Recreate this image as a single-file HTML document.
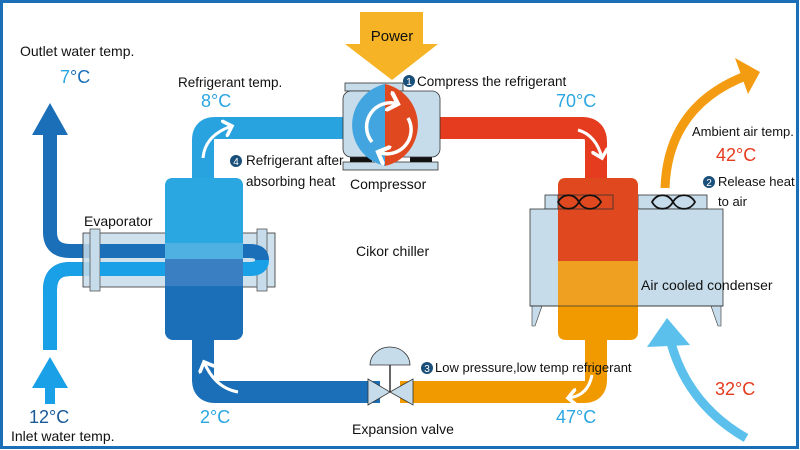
<!DOCTYPE html>
<html><head><meta charset="utf-8"><style>
html,body{margin:0;padding:0;background:#fff}
svg{display:block}
text{font-family:"Liberation Sans",sans-serif}
</style></head><body>
<svg width="800" height="450" viewBox="0 0 800 450" xmlns="http://www.w3.org/2000/svg">
<rect x="1.5" y="1.5" width="796" height="446" fill="#fff" stroke="#1a6fb8" stroke-width="3"/>
<defs>
<marker id="wh" markerWidth="6" markerHeight="6" refX="3" refY="3" orient="auto" markerUnits="strokeWidth"><path d="M0,0 L3,3 L0,6" fill="none" stroke="#fff" stroke-width="1.2"/></marker>
</defs>
<!-- water tubes -->
<path d="M50,135 V232 Q50,251 70,251 H250 Q262,251 262,260 Q262,269 250,269 H70 Q50,269 50,290 V350" fill="none" stroke="#1a6fb8" stroke-width="14"/>
<path d="M250,269 H70 Q50,269 50,290 V350" fill="none" stroke="#1aa0e6" stroke-width="14"/>
<polygon points="50,103 32,135 68,135" fill="#1a6fb8"/>
<polygon points="50,357 32,388 68,388" fill="#1aa0e6"/>
<rect x="45" y="386" width="10" height="18" fill="#1aa0e6"/>
<!-- evaporator shell -->
<rect x="83" y="233" width="192" height="54" fill="#c6dcea" fill-opacity="0.85" stroke="#333" stroke-width="0.8"/>
<rect x="90" y="229" width="10" height="62" fill="#c6dcea" stroke="#555" stroke-width="0.8"/>
<rect x="257" y="229" width="10" height="62" fill="#c6dcea" stroke="#555" stroke-width="0.8"/>
<path d="M100,251 H250 Q262,251 262,260" fill="none" stroke="#1a6fb8" stroke-width="14"/>
<path d="M262,260 Q262,269 250,269 H100" fill="none" stroke="#1aa0e6" stroke-width="14"/>
<!-- refrigerant pipes -->
<path d="M203,180 V140 Q203,128 215,128 H360" fill="none" stroke="#29a3e0" stroke-width="22"/>
<path d="M420,128 H582 Q596,128 596,142 V185" fill="none" stroke="#e53b1e" stroke-width="22"/>
<path d="M596,330 V380 Q596,392 584,392 H400" fill="none" stroke="#f19a00" stroke-width="22"/>
<path d="M203,330 V380 Q203,392 215,392 H380" fill="none" stroke="#1a6fb8" stroke-width="22"/>
<!-- evaporator vessel -->
<rect x="165" y="178" width="78" height="162" rx="8" fill="#1a6fb8"/>
<path d="M173,178 H235 Q243,178 243,186 V258 H165 V186 Q165,178 173,178Z" fill="#2aa6e0"/>
<rect x="165" y="243" width="78" height="16" fill="#4fb0e2"/>
<rect x="165" y="259" width="78" height="27" fill="#3a7fc2"/>
<!-- white arrows -->
<path d="M203,158 Q205,135 232,126" fill="none" stroke="#fff" stroke-width="3" marker-end="url(#wh)"/>
<path d="M578,130 Q596,135 602,158" fill="none" stroke="#fff" stroke-width="3" marker-end="url(#wh)"/>
<path d="M592,375 Q588,396 568,398" fill="none" stroke="#fff" stroke-width="3" marker-end="url(#wh)"/>
<path d="M238,392 Q215,388 204,362" fill="none" stroke="#fff" stroke-width="3" marker-end="url(#wh)"/>
<!-- condenser -->
<rect x="545" y="195" width="68" height="14" fill="#c6dcea" stroke="#333" stroke-width="0.8"/>
<rect x="638" y="195" width="69" height="14" fill="#c6dcea" stroke="#333" stroke-width="0.8"/>
<rect x="530" y="209" width="193" height="97" fill="#c6dcea" stroke="#333" stroke-width="0.8"/>
<polygon points="532,306 542,306 535,326 532,326" fill="#c6dcea" stroke="#333" stroke-width="0.6"/>
<polygon points="711,306 721,306 721,326 718,326" fill="#c6dcea" stroke="#333" stroke-width="0.6"/>
<path d="M566,178 H630 Q638,178 638,186 V332 Q638,340 630,340 H566 Q558,340 558,332 V186 Q558,178 566,178Z" fill="#f19a00"/>
<path d="M566,178 H630 Q638,178 638,186 V261 H558 V186 Q558,178 566,178Z" fill="#e0481f"/>
<rect x="558" y="261" width="80" height="45" fill="#f0a020"/>
<rect x="558" y="195" width="55" height="14" fill="none" stroke="#333" stroke-width="0.8"/>
<line x1="530" y1="306" x2="723" y2="306" stroke="#333" stroke-width="0.8"/>
<path d="M558,202 C563,193 574,193 579,202 C584,211 596,211 601,202 C596,193 584,193 579,202 C574,211 563,211 558,202Z" fill="none" stroke="#111" stroke-width="1.8"/>
<path d="M652,202 C657,193 668,193 673,202 C678,211 690,211 695,202 C690,193 678,193 673,202 C668,211 657,211 652,202Z" fill="none" stroke="#111" stroke-width="1.8"/>
<!-- air arrows -->
<path d="M665,188 Q668,105 748,75" fill="none" stroke="#f39c12" stroke-width="9"/>
<polygon points="760,72 735,58 748,94" fill="#f39c12"/>
<path d="M746,438 Q680,400 667,325" fill="none" stroke="#5bc0eb" stroke-width="9"/>
<polygon points="667,318 647,347 690,345" fill="#5bc0eb"/>
<!-- compressor -->
<rect x="345" y="83" width="58" height="8" fill="#c6dcea" stroke="#333" stroke-width="0.8"/>
<rect x="343" y="162" width="95" height="8" fill="#c6dcea" stroke="#333" stroke-width="0.8"/>
<rect x="350" y="157" width="22" height="5" fill="#111"/>
<rect x="410" y="157" width="22" height="5" fill="#111"/>
<rect x="343" y="91" width="97" height="66" rx="8" fill="#c6dcea" stroke="#333" stroke-width="0.8"/>
<path d="M385,84 A42,42 0 0 0 385,166 Z" fill="#42a5e0"/>
<path d="M385,84 A42,42 0 0 1 385,166 Z" fill="#e0481f"/>
<path d="M372,142 A24,24 0 0 1 398,104" fill="none" stroke="#fff" stroke-width="3.5" marker-end="url(#wh)"/>
<path d="M408,118 A24,24 0 0 1 378,152" fill="none" stroke="#fff" stroke-width="3.5" marker-end="url(#wh)"/>
<!-- power -->
<polygon points="360,12 423,12 423,44 438,44 392,80 345,44 360,44" fill="#f5b325"/>
<text x="392" y="41" font-size="15" fill="#111" text-anchor="middle">Power</text>
<!-- valve -->
<path d="M370,365 A20,18 0 0 1 410,365 Z" fill="#c6dcea" stroke="#333" stroke-width="0.8"/>
<line x1="390" y1="365" x2="390" y2="392" stroke="#333" stroke-width="1.5"/>
<polygon points="368,379 390,392 368,405" fill="#c6dcea" stroke="#333" stroke-width="0.8"/>
<polygon points="413,379 390,392 413,405" fill="#c6dcea" stroke="#333" stroke-width="0.8"/>
<!-- labels -->
<g font-size="14" fill="#111">
<text x="20" y="56">Outlet water temp.</text>
<text x="178" y="87" font-size="13.5">Refrigerant temp.</text>
<text x="246" y="165" font-size="13.5">Refrigerant after</text>
<text x="246" y="186" font-size="13.5">absorbing  heat</text>
<text x="84" y="226">Evaporator</text>
<text x="350" y="189">Compressor</text>
<text x="417" y="86" font-size="13.5">Compress the refrigerant</text>
<text x="692" y="136" font-size="13">Ambient air temp.</text>
<text x="718" y="186" font-size="13">Release heat</text>
<text x="718" y="206" font-size="13">to air</text>
<text x="356" y="256">Cikor chiller</text>
<text x="641" y="290">Air cooled condenser</text>
<text x="435" y="372" font-size="13">Low pressure,low temp refrigerant</text>
<text x="352" y="434">Expansion valve</text>
<text x="11" y="441">Inlet  water temp.</text>
</g>
<g font-size="18">
<text x="60" y="83" fill="#2aa6e0">7<tspan fill="#1a6fb8">°C</tspan></text>
<text x="201" y="107" fill="#2aa6e0">8°C</text>
<text x="556" y="107" fill="#2aa6e0">70°C</text>
<text x="716" y="161" fill="#e53b1e">42°C</text>
<text x="715" y="395" fill="#e53b1e">32°C</text>
<text x="556" y="423" fill="#2aa6e0">47°C</text>
<text x="200" y="423" fill="#2aa6e0">2°C</text>
<text x="29" y="423" fill="#1a5a99">12°C</text>
</g>
<g font-size="10" fill="#fff" text-anchor="middle">
<circle cx="409" cy="81" r="6" fill="#1a4f7a"/><text x="409" y="85">1</text>
<circle cx="709" cy="182" r="6" fill="#1a4f7a"/><text x="709" y="186">2</text>
<circle cx="427" cy="368" r="6" fill="#1a4f7a"/><text x="427" y="372">3</text>
<circle cx="236" cy="161" r="6" fill="#1a4f7a"/><text x="236" y="165">4</text>
</g>
</svg>
</body></html>
